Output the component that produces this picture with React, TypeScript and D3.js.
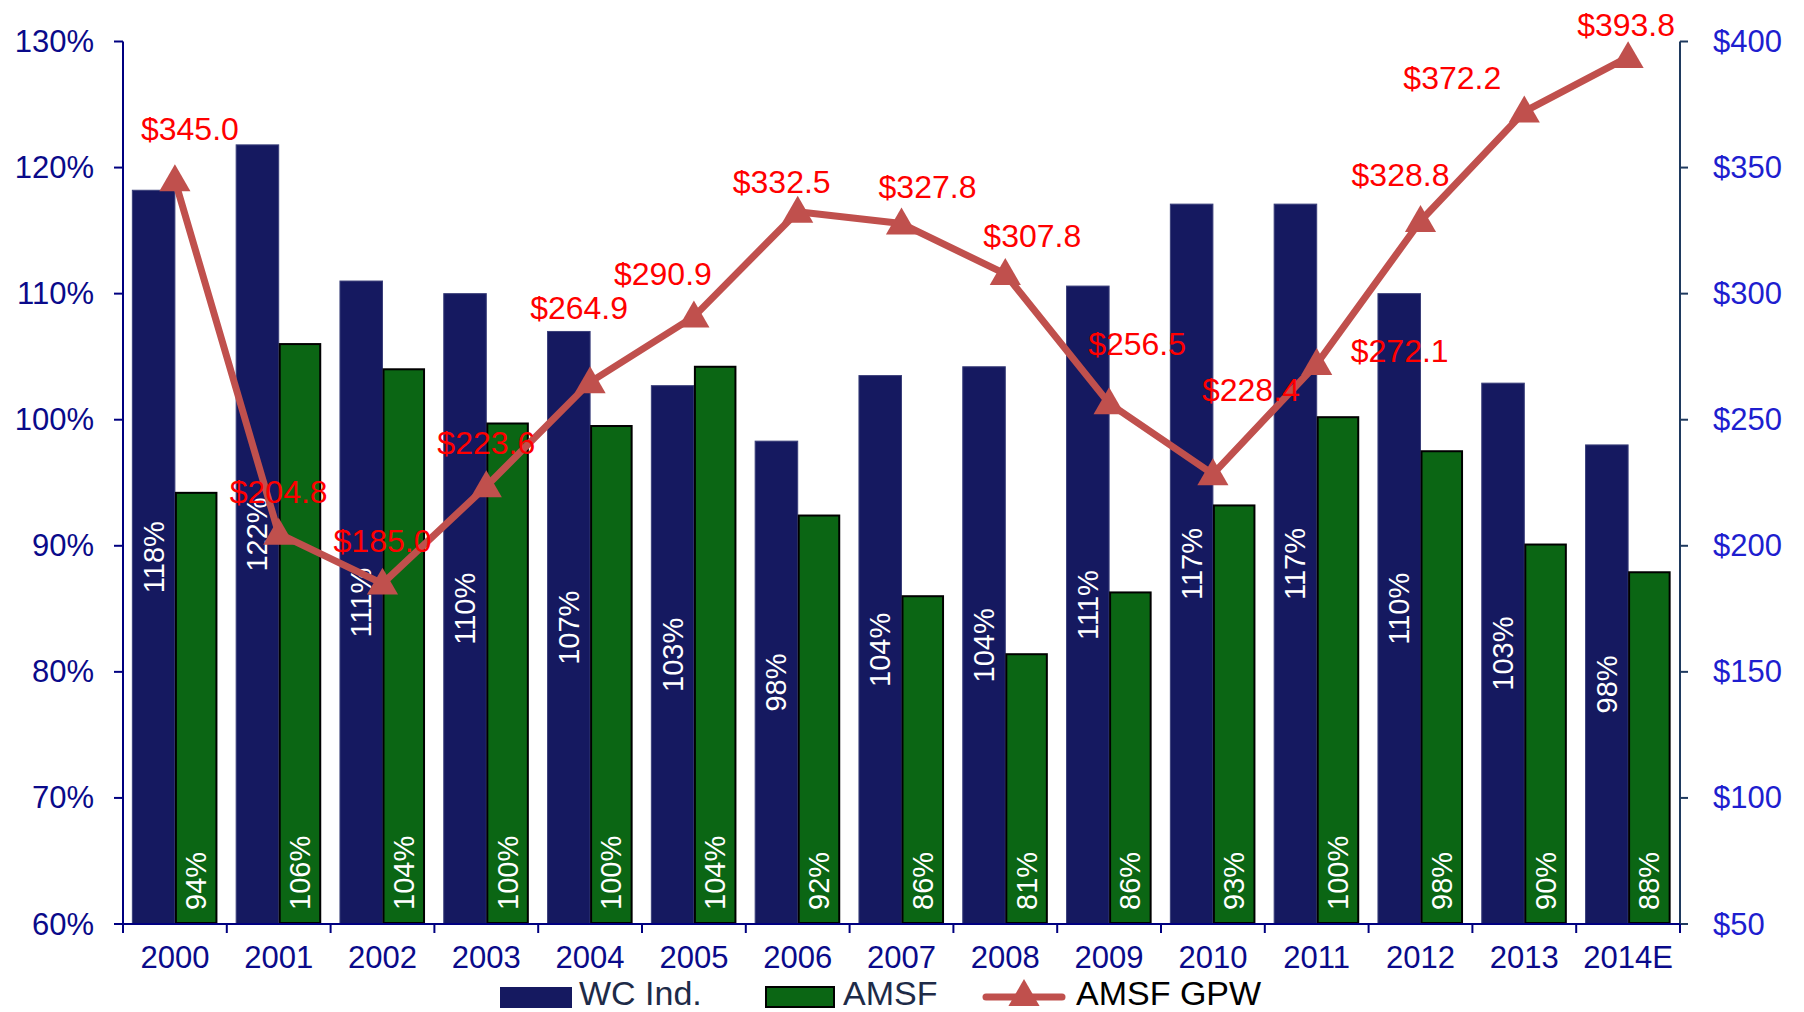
import React from "react";
import * as d3 from "d3";

const categories = ["2000", "2001", "2002", "2003", "2004", "2005", "2006", "2007", "2008", "2009", "2010", "2011", "2012", "2013", "2014E"];
const wcInd = [118.2, 121.8, 111.0, 110.0, 107.0, 102.7, 98.3, 103.5, 104.2, 110.6, 117.1, 117.1, 110.0, 102.9, 98.0];
const amsf = [94.2, 106.0, 104.0, 99.7, 99.5, 104.2, 92.4, 86.0, 81.4, 86.3, 93.2, 100.2, 97.5, 90.1, 87.9];
const gpw = [345.0, 204.8, 185.0, 223.6, 264.9, 290.9, 332.5, 327.8, 307.8, 256.5, 228.4, 272.1, 328.8, 372.2, 393.8];
const pctTicks = [60, 70, 80, 90, 100, 110, 120, 130];
const usdTicks = [50, 100, 150, 200, 250, 300, 350, 400];
const seriesNames = ["WC Ind.", "AMSF", "AMSF GPW"];

// nudges for the GPW value labels, as placed in the original
const labelNudge: [number, number][] = [
  [15, -51], [0, -42], [0, -43], [0, -43], [-11, -74], [-31, -43], [-16, -30], [26, -37],
  [27, -38], [28, -59], [38, -84], [83, -13], [-20, -46], [-72, -34], [-2, -32],
];

const W = 1804;
const H = 1012;
const left = 123;
const right = 1680;
const top = 41.5;
const bottom = 924;
const font = "'Liberation Sans', Arial, sans-serif";
const navy = "#151960";
const green = "#0b6614";
const lineColor = "#c0504d";

const App = () => {
  const x = d3.scaleBand<string>().domain(categories).range([left, right]).padding(0);
  const inner = d3.scaleBand<string>().domain(["wc", "amsf"]).range([0, x.bandwidth()]).paddingInner(0).paddingOuter(0.22);
  const yL = d3.scaleLinear().domain([60, 130]).range([bottom, top]);
  const yR = d3.scaleLinear().domain([50, 400]).range([bottom, top]);
  const cx = (c: string) => (x(c) as number) + x.bandwidth() / 2;

  const line = d3.line<number>().x((_, i) => cx(categories[i])).y(d => yR(d));
  const tri = d3.symbol().type(d3.symbolTriangle).size(420)();
  const bw = inner.bandwidth();

  return (
    <svg width={W} height={H} style={{ position: "absolute", left: 0, top: 0, background: "#fff" }} fontFamily={font}>
      {/* bars */}
      {categories.map((c, i) => {
        const x0 = (x(c) as number) + (inner("wc") as number);
        const x1 = (x(c) as number) + (inner("amsf") as number);
        return (
          <g key={c}>
            <rect x={x0} y={yL(wcInd[i])} width={bw} height={bottom - yL(wcInd[i])} fill={navy} stroke="#3a3f7a" strokeWidth={1} />
            <rect x={x1 + 1} y={yL(amsf[i])} width={bw - 2} height={bottom - yL(amsf[i]) - 1} fill={green} stroke="#000" strokeWidth={2} />
            <text
              transform={`translate(${x0 + bw / 2},${(yL(wcInd[i]) + bottom) / 2}) rotate(-90)`}
              textAnchor="middle"
              dominantBaseline="central"
              fill="#fff"
              fontSize={29}
            >
              {Math.round(wcInd[i])}%
            </text>
            <text
              transform={`translate(${x1 + bw / 2},${bottom - 14}) rotate(-90)`}
              textAnchor="start"
              dominantBaseline="central"
              fill="#fff"
              fontSize={29}
            >
              {Math.round(amsf[i])}%
            </text>
          </g>
        );
      })}

      {/* left axis */}
      <line x1={left} x2={left} y1={top} y2={bottom} stroke="#000080" strokeWidth={2} />
      {pctTicks.map(t => (
        <g key={t} transform={`translate(0,${yL(t)})`}>
          <line x1={left - 9} x2={left} stroke="#000080" strokeWidth={2} />
          <text x={94} textAnchor="end" dominantBaseline="central" fill="#0a0a8a" fontSize={31}>
            {t}%
          </text>
        </g>
      ))}

      {/* right axis */}
      <line x1={right} x2={right} y1={top} y2={bottom} stroke="#1f3a5f" strokeWidth={2} />
      {usdTicks.map(t => (
        <g key={t} transform={`translate(0,${yR(t)})`}>
          <line x1={right} x2={right + 8} stroke="#1f3a5f" strokeWidth={2} />
          <text x={1713} textAnchor="start" dominantBaseline="central" fill="#1e1ecf" fontSize={31}>
            ${t}
          </text>
        </g>
      ))}

      {/* bottom axis */}
      <line x1={left} x2={right} y1={bottom} y2={bottom} stroke="#000080" strokeWidth={2} />
      {categories.map((c, i) => (
        <g key={c}>
          <line x1={(x(c) as number)} x2={(x(c) as number)} y1={bottom} y2={bottom + 9} stroke="#000080" strokeWidth={2} />
          {i === categories.length - 1 && (
            <line x1={right} x2={right} y1={bottom} y2={bottom + 9} stroke="#000080" strokeWidth={2} />
          )}
          <text x={cx(c)} y={968} textAnchor="middle" fill="#0a0a8a" fontSize={31}>
            {c}
          </text>
        </g>
      ))}

      {/* GPW line */}
      <path d={line(gpw) || ""} fill="none" stroke={lineColor} strokeWidth={7} strokeLinejoin="round" />
      {gpw.map((v, i) => (
        <path key={i} d={tri || ""} transform={`translate(${cx(categories[i])},${yR(v) + 2})`} fill={lineColor} />
      ))}
      {gpw.map((v, i) => (
        <text
          key={i}
          x={cx(categories[i]) + labelNudge[i][0]}
          y={yR(v) + labelNudge[i][1]}
          textAnchor="middle"
          dominantBaseline="central"
          fill="#ff0000"
          fontSize={32}
        >
          ${v.toFixed(1)}
        </text>
      ))}

      {/* legend */}
      <g>
        <rect x={500} y={987} width={72} height={21} fill={navy} />
        <text x={579} y={1004.5} fill="#1e2b48" fontSize={34}>{seriesNames[0]}</text>
        <rect x={766} y={987} width={68} height={20} fill={green} stroke="#000" strokeWidth={2} />
        <text x={843} y={1004.5} fill="#1e2b48" fontSize={34}>{seriesNames[1]}</text>
        <line x1={986} x2={1062} y1={997} y2={997} stroke={lineColor} strokeWidth={7} strokeLinecap="round" />
        <path d={tri || ""} transform="translate(1024,997)" fill={lineColor} />
        <text x={1076} y={1004.5} fill="#000" fontSize={34}>{seriesNames[2]}</text>
      </g>
    </svg>
  );
};

export default App;
